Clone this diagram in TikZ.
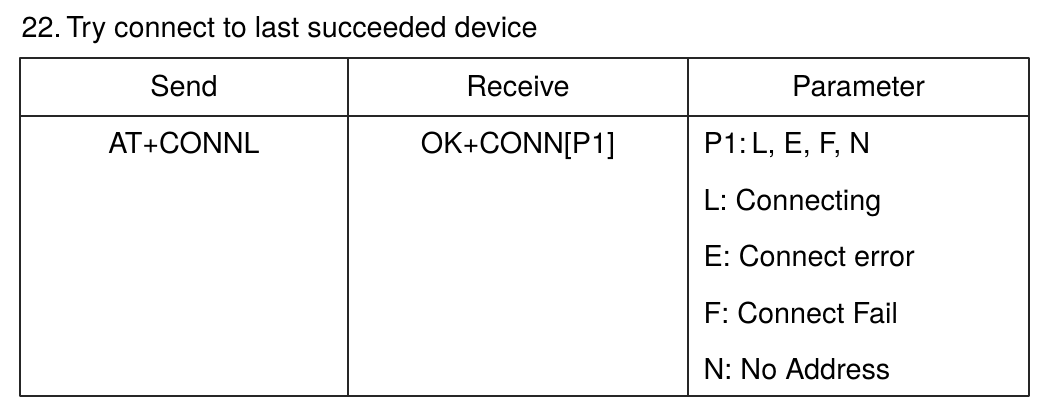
\documentclass[tikz,border=0pt]{standalone}
\usepackage{fontspec}
\setmainfont{TeX Gyre Heros}
\begin{document}
\begin{tikzpicture}[x=1pt, y=-1pt,
  cell/.style={inner sep=0pt, anchor=base, font=\fontsize{28.8}{34}\selectfont},
  line width=1.3pt, line join=round]

  \useasboundingbox (0,0) rectangle (1060,411);

  % Title
  \node [cell, anchor=base west] (title) at (21,38) {22.\,Try connect to last succeeded device};

  % Draw table
  \draw [black!85] (20,58) rectangle (1029,396);
  \draw [black!85] (20,116) -- (1029,116);
  \foreach \x in {348,688}{
    \draw [black!85] (\x,58) -- (\x,396);
  }

  % Header
  \node [cell] (send) at (184,97) {Send};
  \node [cell] (receive) at (518,97) {Receive};
  \node [cell] (parameter) at (858.5,97) {Parameter};

  % Row
  \node [cell] (cmd) at (184,154) {AT+CONNL};
  \node [cell] (reply) at (518,154) {OK+CONN[P1]};
  \foreach [count=\i, evaluate={\y=154+56.5*(\i-1);}] \t in
    {{P1:\,L, E, F, N}, L: Connecting, E: Connect error, F: Connect Fail, N: No Address}{
    \node [cell, anchor=base west] (par\i) at (703,\y) {\t};
  }

\end{tikzpicture}
\end{document}
